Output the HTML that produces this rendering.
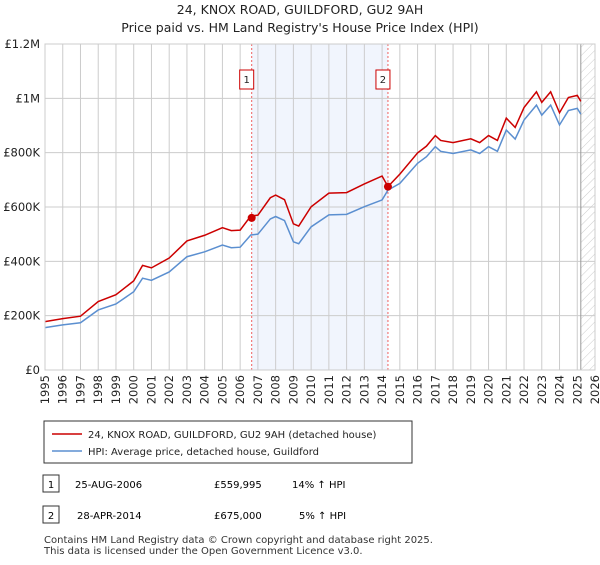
<!DOCTYPE html>
<html><head><meta charset="utf-8"><style>
body{margin:0;background:#fff;font-family:"Liberation Sans","DejaVu Sans",sans-serif;}
svg text{font-family:"DejaVu Sans","Liberation Sans",sans-serif;}
</style></head><body>
<svg id="c" width="600" height="560" xmlns="http://www.w3.org/2000/svg">
<defs><pattern id="hatch" width="6" height="6" patternUnits="userSpaceOnUse" patternTransform="rotate(45)"><line x1="0" y1="0" x2="0" y2="6" stroke="#ccc" stroke-width="1"/></pattern></defs>
<text x="300" y="14" text-anchor="middle" font-size="12.5" fill="#222">24, KNOX ROAD, GUILDFORD, GU2 9AH</text>
<text x="300" y="32" text-anchor="middle" font-size="12.5" fill="#222">Price paid vs. HM Land Registry's House Price Index (HPI)</text>
<g id="plot"></g>
<rect x="44" y="421" width="368" height="42" fill="#fff" stroke="#333"/>
<line x1="52" y1="434" x2="82" y2="434" stroke="#cc0000" stroke-width="1.5"/>
<text x="88" y="438" font-size="10" fill="#222">24, KNOX ROAD, GUILDFORD, GU2 9AH (detached house)</text>
<line x1="52" y1="451" x2="82" y2="451" stroke="#5b8fd0" stroke-width="1.5"/>
<text x="88" y="455" font-size="10" fill="#222">HPI: Average price, detached house, Guildford</text>
<g>
<rect x="43" y="475" width="16" height="17" fill="#fff" stroke="#333"/><text x="51" y="488" text-anchor="middle" font-size="10">1</text>
<text x="75" y="488" font-size="10">25-AUG-2006</text><text x="214" y="488" font-size="10">£559,995</text><text x="292" y="488" font-size="10">14% ↑ HPI</text></g>
<g>
<rect x="43" y="506" width="16" height="17" fill="#fff" stroke="#333"/><text x="51" y="519" text-anchor="middle" font-size="10">2</text>
<text x="77" y="519" font-size="10">28-APR-2014</text><text x="214" y="519" font-size="10">£675,000</text><text x="299" y="519" font-size="10">5% ↑ HPI</text></g>
<text x="44" y="543" font-size="10" fill="#333">Contains HM Land Registry data © Crown copyright and database right 2025.</text>
<text x="44" y="554" font-size="10" fill="#333">This data is licensed under the Open Government Licence v3.0.</text>
</svg>
<script>
const dates=[1995,1996,1997,1998,1999,2000,2000.5,2001,2002,2003,2004,2005,2005.5,2006,2006.6,2007,2007.7,2008,2008.5,2009,2009.3,2010,2011,2012,2013,2014,2014.33,2015,2016,2016.5,2017,2017.3,2018,2019,2019.5,2020,2020.5,2021,2021.5,2022,2022.7,2023,2023.5,2024,2024.5,2025,2025.2];
const hpiValues=[156,166,174,221,243,288,338,330,361,417,435,460,450,452,497,500,556,565,550,472,465,527,571,573,601,626,662,687,761,785,822,805,797,810,797,822,805,883,850,920,975,938,975,902,955,963,942];
const propertyValues=[178,189,198,252,277,328,385,376,412,475,496,524,513,515,567,570,634,644,627,538,530,601,651,653,685,714,675,721,799,824,863,845,837,851,837,863,845,927,893,966,1024,985,1024,947,1003,1011,989];
const saleDates=[2006.65,2014.33];
const salePrices=[560,675];
const saleLabels=["1","2"];
const yTicks=[0,200,400,600,800,1000,1200];
const yTickLabels=["£0","£200K","£400K","£600K","£800K","£1M","£1.2M"];
const xTicks=[1995,1996,1997,1998,1999,2000,2001,2002,2003,2004,2005,2006,2007,2008,2009,2010,2011,2012,2013,2014,2015,2016,2017,2018,2019,2020,2021,2022,2023,2024,2025,2026];
const L=45,R=595,T=44,B=370;
const X=d=>L+(d-1995)/(2026-1995)*(R-L);
const Y=v=>B-v/1200*(B-T);
const NS="http://www.w3.org/2000/svg";
const g=document.getElementById('plot');
function mk(t,a){const e=document.createElementNS(NS,t);for(const k in a)e.setAttribute(k,a[k]);g.appendChild(e);return e;}
let e=mk('rect',{x:X(saleDates[0]),y:T,width:X(saleDates[1])-X(saleDates[0]),height:B-T,fill:'#eef2fc',opacity:0.8});


e=mk('rect',{x:X(2025.2),y:T,width:R-X(2025.2),height:B-T,fill:'url(#hatch)'});


xTicks.forEach(t=>{const l=mk('line',{x1:X(t),x2:X(t),y1:T,y2:B,stroke:'#ccc','stroke-width':1});


const tx=mk('text',{x:0,y:0,'font-size':11.5,fill:'#222','text-anchor':'end',transform:`translate(${X(t)+4},${B+5}) rotate(-90)`});tx.textContent=t;

});
yTicks.forEach((t,i)=>{const l=mk('line',{x1:L,x2:R,y1:Y(t),y2:Y(t),stroke:'#ccc','stroke-width':1});


const tx=mk('text',{x:L-5,y:Y(t)+4,'font-size':11.5,fill:'#222','text-anchor':'end'});tx.textContent=yTickLabels[i];

});
e=mk('line',{x1:X(2025.2),x2:X(2025.2),y1:T,y2:B,stroke:'#999','stroke-width':1});


saleDates.forEach((d,i)=>{const l=mk('line',{x1:X(d),x2:X(d),y1:T,y2:B,stroke:'#f06060','stroke-width':1,'stroke-dasharray':'2,2'});

});
function line(vals,col,name){const p=mk('polyline',{points:dates.map((d,i)=>X(d)+','+Y(vals[i])).join(' '),fill:'none',stroke:col,'stroke-width':1.5});

}
line(hpiValues,'#5b8fd0','hpi-line');
line(propertyValues,'#cc0000','property-price-line');
saleDates.forEach((d,i)=>{const c=mk('circle',{cx:X(d),cy:Y(salePrices[i]),r:4,fill:'#cc0000'});


const b=mk('rect',{x:X(d)-12,y:70,width:14,height:19,fill:'#fff',stroke:'#cc0000'});


const t=mk('text',{x:X(d)-5,y:83,'font-size':10,'text-anchor':'middle',fill:'#222'});t.textContent=saleLabels[i];

});
e=mk('rect',{x:L,y:T,width:R-L,height:B-T,fill:'none',stroke:'#ccc'});


</script>
</body></html>
